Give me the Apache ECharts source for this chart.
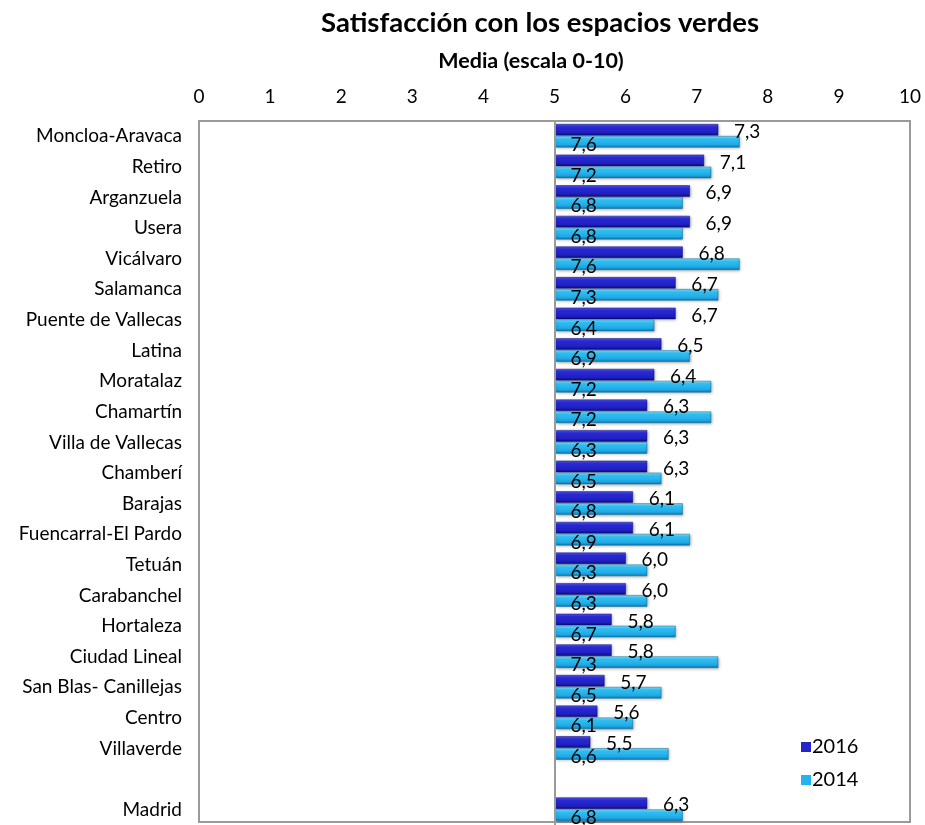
<!DOCTYPE html>
<html>
<head>
<meta charset="utf-8">
<script src="https://cdn.jsdelivr.net/npm/echarts@6/dist/echarts.min.js"></script>
<style>html,body{margin:0;padding:0;background:#fff}#c{width:925px;height:825px}</style>
</head>
<body>
<div id="c"></div>
<script>
const categories = ['Moncloa-Aravaca','Retiro','Arganzuela','Usera','Vicálvaro','Salamanca','Puente de Vallecas','Latina','Moratalaz','Chamartín','Villa de Vallecas','Chamberí','Barajas','Fuencarral-El Pardo','Tetuán','Carabanchel','Hortaleza','Ciudad Lineal','San Blas- Canillejas','Centro','Villaverde','','Madrid'];
const values2016 = [7.3,7.1,6.9,6.9,6.8,6.7,6.7,6.5,6.4,6.3,6.3,6.3,6.1,6.1,6.0,6.0,5.8,5.8,5.7,5.6,5.5,null,6.3];
const values2014 = [7.6,7.2,6.8,6.8,7.6,7.3,6.4,6.9,7.2,7.2,6.3,6.5,6.8,6.9,6.3,6.3,6.7,7.3,6.5,6.1,6.6,null,6.8];
const xTicks = [0,1,2,3,4,5,6,7,8,9,10];
const baseValue = 5;

const FONT = 'Lato';
const darkGrad = new echarts.graphic.LinearGradient(0,0,0,1,[
  {offset:0,color:'#5a5af0'},{offset:0.25,color:'#2a2ad8'},{offset:0.75,color:'#1f1fbf'},{offset:1,color:'#0c0c80'}]);
const lightGrad = new echarts.graphic.LinearGradient(0,0,0,1,[
  {offset:0,color:'#8fe6ff'},{offset:0.25,color:'#30c0f4'},{offset:0.75,color:'#1fa8e4'},{offset:1,color:'#0a78b0'}]);

function makeRender(offsetY, grad, labelAtEnd) {
  return function(params, api) {
    const idx = api.value(0);
    const v = api.value(1);
    if (v == null || isNaN(v)) return;
    const s = api.coord([baseValue, idx]);
    const e = api.coord([v, idx]);
    const h = 11;
    const y = s[1] + offsetY - h/2;
    const txt = v.toFixed(1).replace('.', ',');
    const children = [{
      type: 'rect',
      shape: {x: s[0] + 1, y: y, width: e[0] - s[0] - 1, height: h},
      style: {fill: grad, stroke: labelAtEnd ? '#0a0a70' : '#0a6a9a', lineWidth: 0.5,
        shadowBlur: 3, shadowColor: 'rgba(0,0,0,0.35)', shadowOffsetX: 1, shadowOffsetY: 1}
    }];
    if (labelAtEnd) {
      children.push({type:'text', style:{text: txt, x: e[0] + 16, y: s[1] + offsetY + 2,
        font: '19px ' + FONT, fill:'#000', verticalAlign:'middle', textAlign:'left'}, z2: 10});
    } else {
      children.push({type:'text', style:{text: txt, x: s[0] + 16, y: s[1] + offsetY + 3,
        font: '19px ' + FONT, fill:'#000', verticalAlign:'middle', textAlign:'left'}, z2: 10});
    }
    return {type:'group', children: children};
  };
}

const chart = echarts.init(document.getElementById('c'));
chart.setOption({
  animation: false,
  title: [
    {text: 'Satisfacción con los espacios verdes', left: 535, top: 4, textAlign: 'center',
      textStyle: {fontFamily: FONT, fontSize: 27.5, fontWeight: 'bold', color: '#000'}},
    {text: 'Media (escala 0-10)', left: 526, top: 45, textAlign: 'center',
      textStyle: {fontFamily: FONT, fontSize: 21.5, fontWeight: 'bold', color: '#000'}}
  ],
  legend: {
    orient: 'vertical', left: 796, top: 732, itemWidth: 10, itemHeight: 10, itemGap: 13,
    textStyle: {fontFamily: FONT, fontSize: 20, color: '#000', padding: [0,0,0,-4]},
    data: [{name:'2016', icon:'rect'}, {name:'2014', icon:'rect'}]
  },
  graphic: [{
    type: 'rect', silent: true, z: -1,
    shape: {x: 199, y: 121, width: 711, height: 701},
    style: {fill: '#fff', stroke: '#9a9a9a', lineWidth: 2}
  }],
  grid: {left: 199, right: 15, top: 121, bottom: 0, show: false},
  xAxis: {
    type: 'value', position: 'top', min: 0, max: 10, interval: 1,
    axisLine: {show: false}, axisTick: {show: false}, splitLine: {show: false},
    axisLabel: {fontFamily: FONT, fontSize: 19, color: '#000', margin: 15,
      formatter: v => xTicks.indexOf(v) >= 0 ? String(v) : ''}
  },
  yAxis: {
    type: 'category', inverse: true, data: categories,
    axisLine: {show: false}, axisTick: {show: false},
    axisLabel: {fontFamily: FONT, fontSize: 19, color: '#000', margin: 17}
  },
  series: [
    {
      name: '2016', type: 'custom', encode: {x: 1, y: 0},
      itemStyle: {color: '#2424c8'},
      renderItem: makeRender(-6.5, darkGrad, true),
      data: values2016.map((v, i) => [i, v]),
      markLine: {silent: true, symbol: 'none', label: {show: false},
        lineStyle: {color: '#9a9a9a', width: 2, type: 'solid'}, data: [{xAxis: baseValue}]},
      z: 3
    },
    {
      name: '2014', type: 'custom', encode: {x: 1, y: 0},
      itemStyle: {color: '#22b4ee'},
      renderItem: makeRender(5.5, lightGrad, false),
      data: values2014.map((v, i) => [i, v]),
      z: 3
    }
  ]
});
</script>
</body>
</html>
